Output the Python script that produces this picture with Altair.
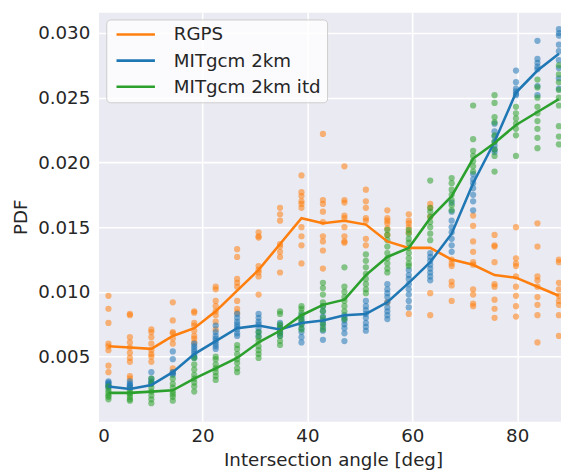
import altair as alt
import pandas as pd

# ---------------- data ----------------
x_centers = [2.05, 6.14, 10.23, 14.32, 18.41, 22.50, 26.59, 30.68, 34.77, 38.86, 42.95,
             47.05, 51.14, 55.23, 59.32, 63.41, 67.50, 71.59, 75.68, 79.77, 83.86, 87.95]
series_names = ["RGPS", "MITgcm 2km", "MITgcm 2km itd"]
series_colors = ["#ff7f0e", "#1f77b4", "#2ca02c"]

x_ticks = [0, 20, 40, 60, 80]
y_ticks = [0.005, 0.010, 0.015, 0.020, 0.025, 0.030]

rgps_line = [0.0058, 0.0057, 0.0056, 0.0066, 0.0072, 0.0085, 0.0101, 0.0117, 0.0137, 0.0157, 0.0153,
             0.0155, 0.0152, 0.0139, 0.0134, 0.0134, 0.0125, 0.0121, 0.0113, 0.0111, 0.0104, 0.0097]
mit_line = [0.0027, 0.0025, 0.0028, 0.0038, 0.0052, 0.0062, 0.0072, 0.0074, 0.0071, 0.0076, 0.0078,
            0.0082, 0.0083, 0.0092, 0.0107, 0.0123, 0.0145, 0.0184, 0.0216, 0.0254, 0.0271, 0.0284]
itd_line = [0.0022, 0.0022, 0.0023, 0.0024, 0.0033, 0.0041, 0.0049, 0.0061, 0.0070, 0.0082, 0.0090,
            0.0094, 0.0113, 0.0127, 0.0134, 0.0157, 0.0174, 0.0203, 0.0215, 0.0229, 0.0239, 0.0249]

rgps_points = [
    [0.0097, 0.0087, 0.0076, 0.0060, 0.0058, 0.0055, 0.0043, 0.0038],
    [0.0083, 0.0082, 0.0065, 0.0061, 0.0057, 0.0053, 0.0049, 0.0046, 0.0035, 0.0033],
    [0.0071, 0.0069, 0.0065, 0.0060, 0.0055, 0.0052, 0.0050, 0.0046],
    [0.0092, 0.0078, 0.0069, 0.0068, 0.0064, 0.0060, 0.0041, 0.0038],
    [0.0085, 0.0084, 0.0076, 0.0074, 0.0070, 0.0066, 0.0064, 0.0061],
    [0.0104, 0.0102, 0.0093, 0.0089, 0.0085, 0.0082, 0.0077, 0.0071],
    [0.0133, 0.0127, 0.0110, 0.0107, 0.0104, 0.0093, 0.0087, 0.0084],
    [0.0146, 0.0143, 0.0142, 0.0120, 0.0117, 0.0115, 0.0112, 0.0098],
    [0.0165, 0.0160, 0.0155, 0.0137, 0.0135, 0.0131, 0.0127, 0.0115],
    [0.0190, 0.0177, 0.0174, 0.0170, 0.0168, 0.0165, 0.0150, 0.0143, 0.0136, 0.0122],
    [0.0222, 0.0171, 0.0168, 0.0162, 0.0154, 0.0143, 0.0139, 0.0132, 0.0118],
    [0.0197, 0.0171, 0.0169, 0.0159, 0.0157, 0.0150, 0.0143, 0.0139, 0.0138],
    [0.0179, 0.0170, 0.0165, 0.0157, 0.0155, 0.0141, 0.0136],
    [0.0163, 0.0157, 0.0155, 0.0153, 0.0149, 0.0144, 0.0092],
    [0.0160, 0.0155, 0.0153, 0.0150, 0.0146, 0.0083],
    [0.0168, 0.0165, 0.0158, 0.0099, 0.0082],
    [0.0125, 0.0122, 0.0120, 0.0108, 0.0105, 0.0093],
    [0.0159, 0.0151, 0.0139, 0.0131, 0.0123, 0.0121, 0.0102, 0.0098, 0.0091, 0.0089],
    [0.0144, 0.0136, 0.0135, 0.0123, 0.0106, 0.0104, 0.0094, 0.0087, 0.0080],
    [0.0150, 0.0126, 0.0122, 0.0120, 0.0112, 0.0104, 0.0097, 0.0089, 0.0081],
    [0.0153, 0.0135, 0.0112, 0.0109, 0.0104, 0.0096, 0.0090, 0.0082, 0.0061],
    [0.0125, 0.0123, 0.0107, 0.0102, 0.0097, 0.0093, 0.0090, 0.0082, 0.0066],
]
mit_points = [
    [0.0031, 0.0030, 0.0029, 0.0028, 0.0027, 0.0026],
    [0.0031, 0.0029, 0.0028, 0.0027, 0.0026],
    [0.0038, 0.0033, 0.0031, 0.0030, 0.0029],
    [0.0054, 0.0048, 0.0038, 0.0037, 0.0036],
    [0.0060, 0.0058, 0.0056, 0.0054, 0.0052, 0.0050, 0.0049],
    [0.0074, 0.0069, 0.0066, 0.0064, 0.0062, 0.0060, 0.0058, 0.0056],
    [0.0083, 0.0080, 0.0077, 0.0075, 0.0073, 0.0071, 0.0068, 0.0066],
    [0.0083, 0.0080, 0.0077, 0.0075, 0.0072, 0.0069, 0.0066],
    [0.0076, 0.0074, 0.0072, 0.0070, 0.0068, 0.0066],
    [0.0082, 0.0079, 0.0077, 0.0075, 0.0072, 0.0069, 0.0065, 0.0061],
    [0.0089, 0.0085, 0.0081, 0.0078, 0.0076, 0.0073, 0.0070, 0.0063],
    [0.0082, 0.0080, 0.0078, 0.0075, 0.0072, 0.0068, 0.0062],
    [0.0093, 0.0089, 0.0086, 0.0083, 0.0080, 0.0076, 0.0073, 0.0070],
    [0.0106, 0.0102, 0.0099, 0.0096, 0.0092, 0.0088, 0.0085, 0.0082, 0.0079],
    [0.0117, 0.0113, 0.0110, 0.0106, 0.0102, 0.0098, 0.0093, 0.0088],
    [0.0130, 0.0127, 0.0124, 0.0121, 0.0118, 0.0115, 0.0112, 0.0109],
    [0.0169, 0.0162, 0.0155, 0.0150, 0.0146, 0.0141, 0.0136, 0.0131],
    [0.0191, 0.0187, 0.0184, 0.0180, 0.0175, 0.0170, 0.0163],
    [0.0230, 0.0224, 0.0220, 0.0216, 0.0213, 0.0210, 0.0208],
    [0.0271, 0.0262, 0.0257, 0.0255, 0.0253, 0.0252],
    [0.0294, 0.0280, 0.0277, 0.0274, 0.0272, 0.0259, 0.0252],
    [0.0303, 0.0300, 0.0298, 0.0291, 0.0286, 0.0279, 0.0273, 0.0265, 0.0257],
]
itd_points = [
    [0.0027, 0.0024, 0.0022, 0.0020, 0.0019, 0.0017],
    [0.0024, 0.0022, 0.0021, 0.0019, 0.0017, 0.0016],
    [0.0033, 0.0029, 0.0026, 0.0023, 0.0020, 0.0017, 0.0014],
    [0.0033, 0.0029, 0.0026, 0.0023, 0.0021, 0.0019, 0.0016],
    [0.0049, 0.0044, 0.0040, 0.0036, 0.0033, 0.0030, 0.0027, 0.0023],
    [0.0050, 0.0048, 0.0044, 0.0041, 0.0038, 0.0035, 0.0032],
    [0.0059, 0.0056, 0.0052, 0.0048, 0.0045, 0.0041, 0.0038],
    [0.0069, 0.0065, 0.0062, 0.0058, 0.0055, 0.0052, 0.0049],
    [0.0085, 0.0083, 0.0075, 0.0072, 0.0069, 0.0066, 0.0062, 0.0059],
    [0.0089, 0.0087, 0.0084, 0.0081, 0.0078, 0.0075, 0.0071],
    [0.0107, 0.0103, 0.0098, 0.0092, 0.0089, 0.0085, 0.0080, 0.0075, 0.0071],
    [0.0119, 0.0104, 0.0100, 0.0096, 0.0093, 0.0089, 0.0085, 0.0079],
    [0.0129, 0.0124, 0.0119, 0.0114, 0.0110, 0.0106, 0.0102, 0.0099],
    [0.0148, 0.0144, 0.0140, 0.0135, 0.0130, 0.0126, 0.0122, 0.0118, 0.0115],
    [0.0148, 0.0145, 0.0141, 0.0138, 0.0134, 0.0130, 0.0126, 0.0122, 0.0120],
    [0.0186, 0.0165, 0.0162, 0.0158, 0.0154, 0.0150, 0.0145, 0.0140],
    [0.0188, 0.0184, 0.0179, 0.0175, 0.0171, 0.0167, 0.0163],
    [0.0244, 0.0218, 0.0209, 0.0205, 0.0201, 0.0197, 0.0193],
    [0.0252, 0.0246, 0.0235, 0.0231, 0.0221, 0.0216, 0.0210, 0.0205, 0.0193],
    [0.0243, 0.0238, 0.0234, 0.0230, 0.0226, 0.0221, 0.0205],
    [0.0264, 0.0258, 0.0250, 0.0243, 0.0238, 0.0232, 0.0226, 0.0219, 0.0211],
    [0.0275, 0.0268, 0.0262, 0.0256, 0.0250, 0.0244, 0.0228, 0.0220, 0.0214],
]

# ---------------- tables ----------------
pt_rows = []
for name, cols in zip(series_names, [rgps_points, mit_points, itd_points]):
    for xc, vals in zip(x_centers, cols):
        for v in vals:
            pt_rows.append({"angle": xc, "pdf": v, "series": name})
df_pts = pd.DataFrame(pt_rows)

ln_rows = []
for name, vals in zip(series_names, [rgps_line, mit_line, itd_line]):
    for xc, v in zip(x_centers, vals):
        ln_rows.append({"angle": xc, "pdf": v, "series": name})
df_lines = pd.DataFrame(ln_rows)

FONT = "DejaVu Sans"
TXT = "#262626"
FS = 18.5

x_enc = alt.X("angle:Q",
              scale=alt.Scale(domain=[0, 88.35], nice=False, zero=False),
              axis=alt.Axis(values=x_ticks, title="Intersection angle [deg]",
                            labelBaseline="alphabetic", labelPadding=20,
                            titleX=238.7, titleY=44.3, titleBaseline="alphabetic",
                            titleAlign="center"))
y_enc = alt.Y("pdf:Q",
              scale=alt.Scale(domain=[0, 0.0316], nice=False, zero=False),
              axis=alt.Axis(values=y_ticks, format=".3f", title="PDF",
                            labelPadding=8, titleX=-72, titleY=207.5,
                            titleBaseline="alphabetic", titleAlign="center"))
color_scale = alt.Scale(domain=series_names, range=series_colors)

points = alt.Chart(df_pts).mark_circle(size=40, opacity=0.55).encode(
    x=x_enc, y=y_enc,
    color=alt.Color("series:N", scale=color_scale, legend=None),
)

lines = alt.Chart(df_lines).mark_line(strokeWidth=2.6).encode(
    x=x_enc, y=y_enc,
    color=alt.Color("series:N", scale=color_scale,
                    legend=alt.Legend(title=None, orient="none", legendX=8.7, legendY=7.3,
                                      symbolType="M-1,0H7", symbolSize=95,
                                      symbolStrokeWidth=2.6, labelFontSize=FS,
                                      labelFont=FONT, labelColor=TXT, labelOffset=44,
                                      padding=6, rowPadding=7.5,
                                      fillColor="rgba(255,255,255,0.8)",
                                      strokeColor="#cccccc", cornerRadius=4)),
)

chart = alt.layer(points, lines).resolve_legend(color="independent").properties(
    width=470, height=415,
    autosize=alt.AutoSizeParams(type="none"),
    padding={"left": 91, "top": 1, "right": 0, "bottom": 48},
    background="white",
).configure_view(
    fill="#EAEAF2", stroke="transparent"
).configure_axis(
    grid=True, gridColor="white", gridWidth=1.6, domain=False, ticks=False, tickSize=0,
    labelFont=FONT, labelFontSize=FS, labelColor=TXT,
    titleFont=FONT, titleFontSize=FS, titleColor=TXT, titleFontWeight="normal",
)

chart.save("out.html", embed_options={"renderer": "svg", "actions": False})
